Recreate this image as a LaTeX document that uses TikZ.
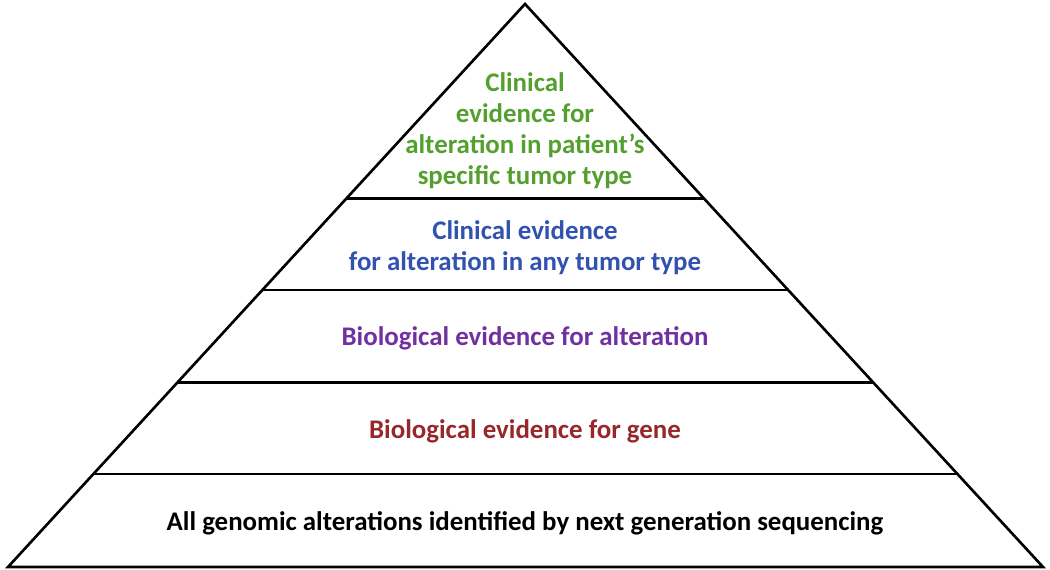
\documentclass[tikz,border=0pt]{standalone}
\usepackage{fontspec}
\setmainfont{Carlito}
\usetikzlibrary{calc}
\definecolor{tumorgreen}{RGB}{84,160,46}
\definecolor{anyblue}{RGB}{50,82,176}
\definecolor{altpurple}{RGB}{112,48,160}
\definecolor{genered}{RGB}{150,40,44}
\tikzset{
  level label/.style={font=\bfseries\fontsize{15.3}{17.6}\selectfont, align=center, inner sep=0pt}
}
\begin{document}
\begin{tikzpicture}
        \useasboundingbox (0,0) rectangle (21,11.4);
        %金字塔的三個頂點
        \coordinate (Base1) at (0.16,0.06);
        \coordinate (Base2) at (20.86,0.06);
        \coordinate (TopPt) at (10.5,11.32);

        %分層線的兩端
        \foreach \k/\frac in {1/0.165, 2/0.328, 3/0.492, 4/0.655}
        {
            \coordinate (L\k) at ($(Base1)!\frac!(TopPt)$);
            \coordinate (R\k) at ($(Base2)!\frac!(TopPt)$);
        }

        \draw [line width=1.5pt, line join=miter]
        (Base1) -- (Base2) -- (TopPt) -- cycle;

        \draw [line width=1.5pt]
        (L1) -- (R1)
        (L2) -- (R2)
        (L3) -- (R3)
        (L4) -- (R4);

        \node[level label, anchor=base] (Lvl1) at (10.5,0.78)
            {All genomic alterations identified by next generation sequencing};
        \node[level label, anchor=base, text=genered] (Lvl2) at (10.5,2.62)
            {Biological evidence for gene};
        \node[level label, anchor=base, text=altpurple] (Lvl3) at (10.5,4.48)
            {Biological evidence for alteration};
        \node[level label, text=anyblue] (Lvl4) at (10.5,6.45)
            {Clinical evidence\\ for alteration in any tumor type};
        \node[level label, text=tumorgreen] (Lvl5) at (10.5,8.78)
            {Clinical\\ evidence for\\ alteration in patient’s\\ specific tumor type};
\end{tikzpicture}
\end{document}
